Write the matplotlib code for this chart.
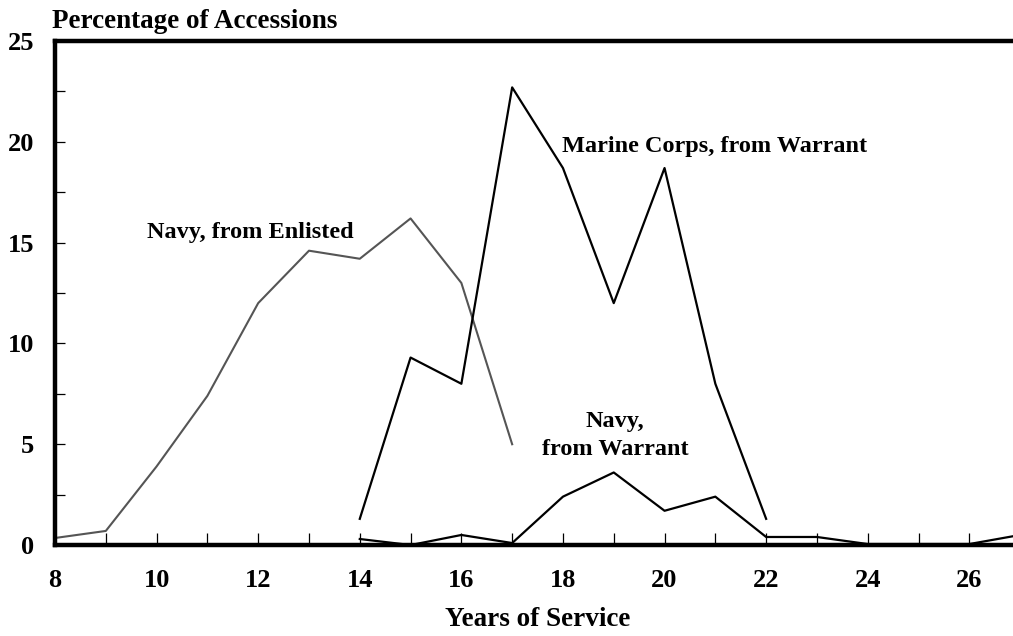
import matplotlib.pyplot as plt
from matplotlib.ticker import MultipleLocator

# Data
navy_enl_x = [8, 9, 10, 11, 12, 13, 14, 15, 16, 17]
navy_enl_y = [0.35, 0.7, 3.9, 7.4, 12.0, 14.6, 14.2, 16.2, 13.0, 5.0]

marine_wo_x = [14, 15, 16, 17, 18, 19, 20, 21, 22]
marine_wo_y = [1.3, 9.3, 8.0, 22.7, 18.7, 12.0, 18.7, 8.0, 1.3]

navy_wo_x = [14, 15, 16, 17, 18, 19, 20, 21, 22, 23, 24, 25, 26, 27]
navy_wo_y = [0.3, 0.0, 0.5, 0.1, 2.4, 3.6, 1.7, 2.4, 0.4, 0.4, 0.05, 0.05, 0.05, 0.5]

x_labels = [8, 10, 12, 14, 16, 18, 20, 22, 24, 26]

plt.rcParams['font.family'] = ['Liberation Serif', 'DejaVu Serif']
plt.rcParams['font.weight'] = 'bold'

fig = plt.figure(figsize=(10.13, 6.36), dpi=100)
ax = fig.add_axes([0.0543, 0.143, 0.9457, 0.7925])

ax.plot(navy_enl_x, navy_enl_y, color='#555555', lw=1.5)
ax.plot(marine_wo_x, marine_wo_y, color='black', lw=1.6)
ax.plot(navy_wo_x, navy_wo_y, color='black', lw=1.6)

ax.set_xlim(8, 26.86)
ax.set_ylim(0, 25)

for s in ['top', 'bottom', 'left']:
    ax.spines[s].set_linewidth(3.2)
ax.spines['right'].set_visible(False)

ax.xaxis.set_major_locator(MultipleLocator(2))
ax.xaxis.set_minor_locator(MultipleLocator(1))
ax.yaxis.set_major_locator(MultipleLocator(5))
ax.yaxis.set_minor_locator(MultipleLocator(2.5))
ax.tick_params(axis='x', which='both', direction='in', length=8.5, width=0.9,
               labelsize=19, pad=17)
ax.tick_params(axis='y', which='both', direction='in', length=7.5, width=0.9,
               labelsize=19, pad=15)
ax.set_xticks(x_labels)

ax.text(-0.003, 1.013, 'Percentage of Accessions', transform=ax.transAxes,
        fontsize=19.5, fontweight='bold', ha='left', va='bottom')
# x-axis title placed in figure coordinates
fig.text(0.5306, 1 - 620 / 636, 'Years of Service', fontsize=19.5,
         fontweight='bold', ha='center', va='center')

ax.text(11.85, 15.5, 'Navy, from Enlisted', fontsize=17.5, fontweight='bold',
        ha='center', va='center')
ax.text(20.98, 19.75, 'Marine Corps, from Warrant', fontsize=17.5,
        fontweight='bold', ha='center', va='center')
ax.text(19.03, 5.45, 'Navy,\nfrom Warrant', fontsize=17.5, fontweight='bold',
        ha='center', va='center', linespacing=1.45)

fig.savefig('out.png', dpi=100)
